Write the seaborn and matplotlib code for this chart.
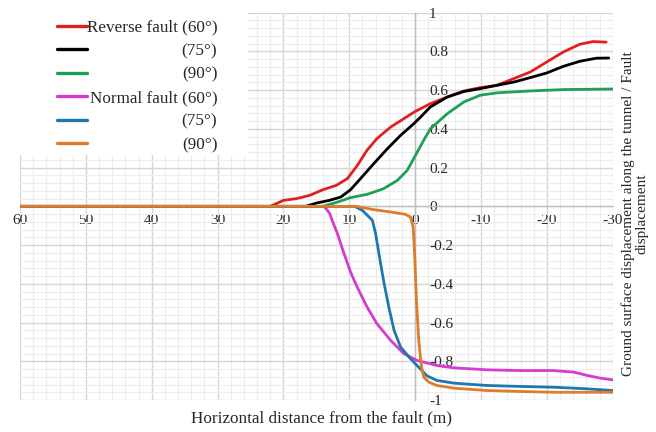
import matplotlib
matplotlib.use("Agg")
import matplotlib.pyplot as plt
from matplotlib.ticker import MultipleLocator, FuncFormatter
from matplotlib.patches import Rectangle
import seaborn as sns
import pandas as pd

# Horizontal distance from the fault (m) and normalised surface displacement
rev60_x = [60, 22, 20, 18, 16, 14, 12, 10.3, 8.8, 7.3, 5.8, 3.7, 1.7, 0, -2.3, -4.9,
           -7.4, -9.9, -12.4, -15, -17.5, -20, -22.5, -25, -27, -29]
rev60_y = [0, 0, 0.031, 0.04, 0.057, 0.086, 0.108, 0.143, 0.21, 0.29, 0.35, 0.41, 0.453,
           0.49, 0.53, 0.565, 0.596, 0.613, 0.625, 0.66, 0.694, 0.746, 0.797, 0.837,
           0.851, 0.848]

rev75_x = [60, 16.6, 15, 13, 11.3, 9.8, 8.3, 6.3, 4.2, 2.2, 0.2, -0.8, -2.3, -4.9, -7.4,
           -9.9, -12.4, -15, -17.5, -20, -22.5, -25, -27.5, -29.4]
rev75_y = [0, 0, 0.017, 0.031, 0.048, 0.086, 0.143, 0.22, 0.298, 0.367, 0.427, 0.46,
           0.513, 0.565, 0.593, 0.608, 0.625, 0.642, 0.665, 0.689, 0.723, 0.749, 0.765,
           0.766]

rev90_x = [60, 14, 11.8, 9.8, 7.3, 4.8, 2.7, 1.2, 0, -1.3, -2.3, -4.9, -7.4, -9.9, -12.4,
           -17.5, -22.5, -30]
rev90_y = [0, 0, 0.022, 0.045, 0.062, 0.091, 0.134, 0.186, 0.26, 0.341, 0.4, 0.479,
           0.539, 0.574, 0.586, 0.596, 0.603, 0.606]

nor60_x = [60, 13.8, 13.0, 12.6, 11.8, 10.8, 9.8, 8.8, 7.3, 5.8, 3.7, 1.7, -0.3, -2.3,
           -3.3, -5.9, -10.9, -16, -21, -24.1, -26.1, -28.1, -30]
nor60_y = [0, 0, -0.035, -0.072, -0.141, -0.244, -0.34, -0.417, -0.52, -0.606, -0.693,
           -0.761, -0.796, -0.813, -0.822, -0.834, -0.844, -0.848, -0.848, -0.856,
           -0.873, -0.887, -0.896]

nor75_x = [60, 9.2, 8, 7, 6.5, 6, 5.5, 4.8, 4, 3.2, 2.2, 0.7, -0.8, -1.8, -3.3, -5.9,
           -10.9, -16, -21, -26, -30]
nor75_y = [0, 0, -0.021, -0.055, -0.072, -0.141, -0.244, -0.382, -0.52, -0.64, -0.727,
           -0.787, -0.84, -0.875, -0.899, -0.913, -0.925, -0.93, -0.934, -0.942, -0.951]

nor90_x = [60, 9, 6.3, 3.7, 1.5, 0.7, 0.3, 0.1, -0.2, -0.55, -0.9, -1.3, -2.1, -3.3,
           -5.9, -10.9, -16, -21, -30]
nor90_y = [0, 0, -0.017, -0.029, -0.041, -0.055, -0.107, -0.227, -0.486, -0.69, -0.813,
           -0.882, -0.908, -0.925, -0.939, -0.951, -0.956, -0.96, -0.96]

labels = ["Reverse fault (60°)", "(75°)", "(90°)",
          "Normal fault (60°)", "(75°)", "(90°)"]
colors = ["#e02020", "#000000", "#1fa055", "#d43cd0", "#1f77b0", "#dd7c2a"]
series = [(rev60_x, rev60_y), (rev75_x, rev75_y), (rev90_x, rev90_y),
          (nor60_x, nor60_y), (nor75_x, nor75_y), (nor90_x, nor90_y)]

sns.set_style("white")
plt.rcParams["font.family"] = ["Liberation Serif", "DejaVu Serif"]

fig = plt.figure(figsize=(6.56, 4.32), dpi=100)
ax = fig.add_axes([20 / 656, 1 - 400 / 432, 592.7 / 656, 387.3 / 432])

handles = []
for (xs, ys), lab, col in zip(series, labels, colors):
    df = pd.DataFrame({"x": xs, "y": ys})
    sns.lineplot(data=df, x="x", y="y", sort=False, estimator=None, color=col,
                 linewidth=2.0, ax=ax, legend=False)
    handles.append(ax.lines[-1])

ax.set_xlim(60, -30)
ax.set_ylim(-1, 1)
ax.xaxis.set_major_locator(MultipleLocator(10))
ax.xaxis.set_minor_locator(MultipleLocator(2))
ax.yaxis.set_major_locator(MultipleLocator(0.2))
ax.yaxis.set_minor_locator(MultipleLocator(0.04))
ax.set_axisbelow(True)
ax.grid(which="major", color="#d6d6d6", linewidth=1.0)
ax.grid(which="minor", color="#ededed", linewidth=0.8)

for side in ("top", "right"):
    ax.spines[side].set_visible(False)
ax.spines["left"].set_position(("data", 0))
ax.spines["bottom"].set_position(("data", 0))
for side in ("left", "bottom"):
    ax.spines[side].set_color("#bfbfbf")
    ax.spines[side].set_linewidth(1.0)
    ax.spines[side].set_zorder(1.5)

fmt = FuncFormatter(lambda v, p: ("%g" % round(v, 2)).replace("−", "-"))
ax.xaxis.set_major_formatter(fmt)
ax.yaxis.set_major_formatter(fmt)
ax.tick_params(which="both", length=0, labelsize=11, colors="#262626")
ax.tick_params(axis="x", pad=5.5)
ax.tick_params(axis="y", pad=-10)
for t in ax.get_yticklabels():
    t.set_horizontalalignment("left")

ax.set_xlabel("Horizontal distance from the fault (m)", fontsize=12.3, color="#262626")
ax.xaxis.set_label_coords(0.508, -0.028)
ax.set_ylabel("Ground surface displacement along the tunnel / Fault\ndisplacement",
              fontsize=11, color="#262626", multialignment="center",
              linespacing=1.1)
ax.yaxis.set_label_position("right")
ax.yaxis.set_label_coords(1.014, 0.48)

# white panel behind the legend
ax.add_patch(Rectangle((0, 0.633), 0.385, 0.367, transform=ax.transAxes,
                       facecolor="white", edgecolor="none", zorder=1))

leg = ax.legend(handles=handles, labels=labels, loc="upper left",
                bbox_to_anchor=(0.062, 0.982), frameon=False, fontsize=12.3,
                handlelength=1.75, handletextpad=0.0, labelspacing=0.44,
                borderpad=0.0, borderaxespad=0.0)
for h in leg.legend_handles:
    h.set_linewidth(2.4)

# right-align the legend labels against the longest one
fig.canvas.draw()
renderer = fig.canvas.get_renderer()
widths = [t.get_window_extent(renderer).width for t in leg.get_texts()]
wmax = max(widths)
for t, w in zip(leg.get_texts(), widths):
    t.set_position((wmax - w, 0))

fig.savefig("out.png", dpi=100)
